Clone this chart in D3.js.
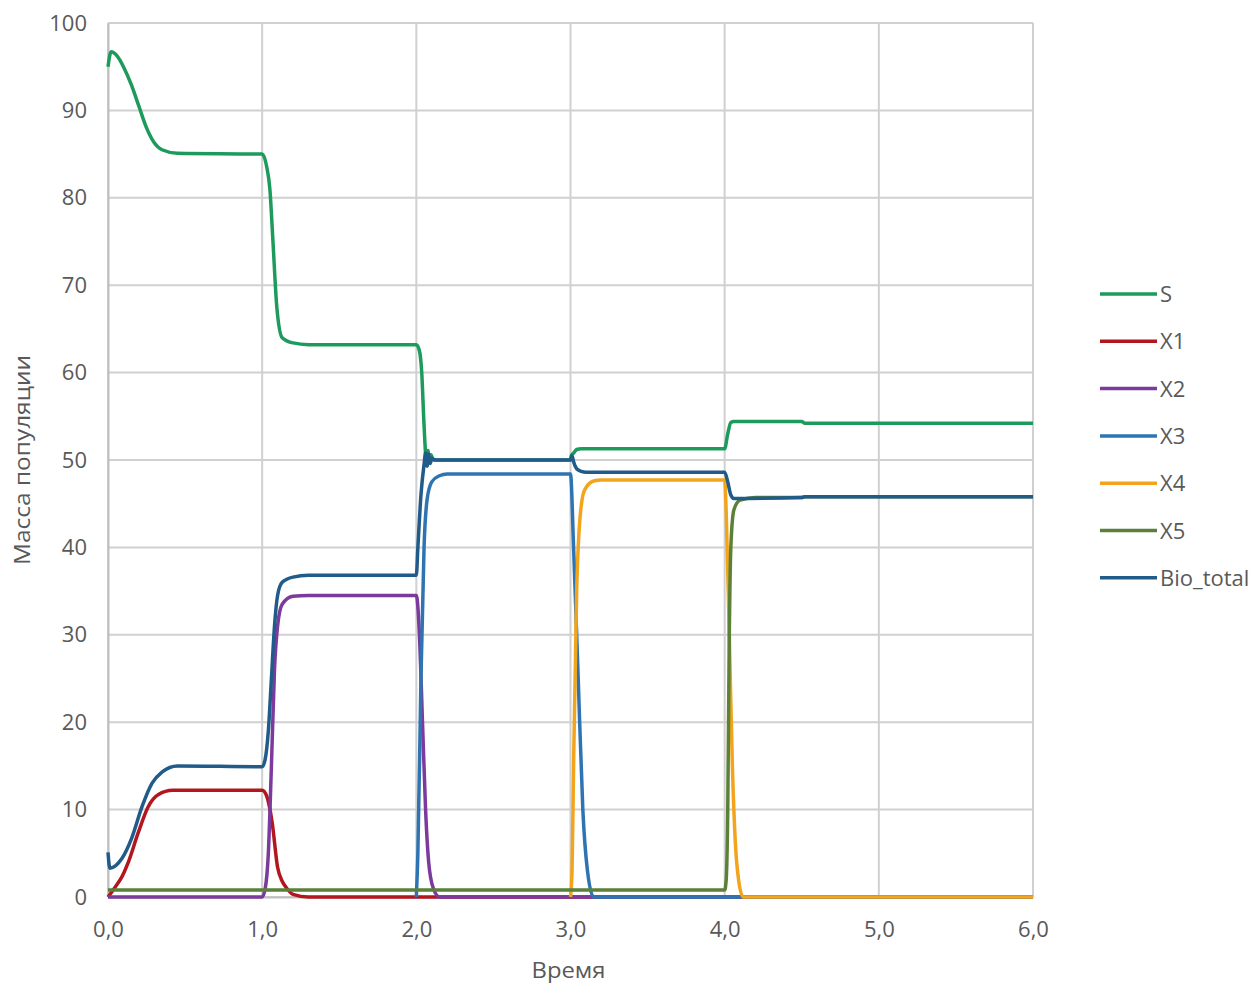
<!DOCTYPE html>
<html>
<head>
<meta charset="utf-8">
<script src="https://cdn.jsdelivr.net/npm/d3@7"></script>
<style>
  body { margin: 0; background: #fff; }
  text { font-family: "Open Sans", "Liberation Sans", sans-serif; fill: #595959; }
</style>
</head>
<body>
<svg id="chart" width="1256" height="983"></svg>
<script>
// time points + values, one [t, v] list per series
const seriesNames = ["S", "X1", "X2", "X3", "X4", "X5", "Bio_total"];
const seriesColors = ["#1c9b5c", "#b2161e", "#7b3a9c", "#2f74b2", "#f2a51c", "#5b8038", "#215b8a"];

const S = [
  [0, 95], [0.02, 96.7], [0.06, 96.2], [0.1, 95], [0.15, 93], [0.2, 90.5], [0.25, 88], [0.3, 86.3],
  [0.35, 85.5], [0.45, 85.1], [1.0, 85], [1.03, 83.5], [1.05, 81], [1.07, 75], [1.095, 67.5],
  [1.13, 64], [1.2, 63.4], [1.3, 63.2], [2.0, 63.2], [2.02, 62.5], [2.035, 60], [2.05, 54],
  [2.065, 50], [2.075, 51.1], [2.085, 49.7], [2.095, 50.6], [2.11, 50], [3.0, 50], [3.005, 50.5],
  [3.02, 50.8], [3.04, 51.2], [3.07, 51.3], [4.0, 51.3], [4.02, 53], [4.04, 54.3], [4.06, 54.4],
  [4.5, 54.4], [4.52, 54.2], [6.0, 54.2]
];
const X1 = [
  [0, 0], [0.045, 1.1], [0.09, 2.3], [0.13, 3.9], [0.195, 7.3], [0.26, 10.3], [0.325, 11.7],
  [0.42, 12.2], [1.0, 12.2], [1.03, 11.5], [1.065, 8.5], [1.1, 3.4], [1.13, 1.8],
  [1.16, 1.0], [1.2, 0.3], [1.3, 0], [6.0, 0]
];
const X2 = [
  [0, 0], [1.0, 0], [1.02, 1], [1.04, 5], [1.06, 15], [1.08, 26], [1.1, 31], [1.13, 33.5],
  [1.2, 34.4], [1.3, 34.5], [2.0, 34.5], [2.02, 30], [2.04, 20], [2.06, 10], [2.08, 4],
  [2.11, 1], [2.15, 0], [6.0, 0]
];
const X3 = [
  [2.0, 0], [2.01, 5], [2.03, 25], [2.05, 40], [2.07, 45.5], [2.1, 47.5], [2.15, 48.2],
  [2.2, 48.4], [3.0, 48.4], [3.02, 40], [3.05, 25], [3.08, 10], [3.11, 3], [3.15, 0], [6.0, 0]
];
const X4 = [
  [3.0, 0], [3.01, 3], [3.02, 15], [3.04, 35], [3.06, 43], [3.09, 46.5], [3.15, 47.6],
  [3.2, 47.7], [4.0, 47.7], [4.01, 44], [4.03, 30], [4.05, 15], [4.07, 6], [4.09, 2],
  [4.12, 0], [6.0, 0]
];
const X5 = [
  [0, 0.8], [4.0, 0.8], [4.01, 2], [4.02, 10], [4.03, 30], [4.04, 40], [4.06, 44.3],
  [4.1, 45.4], [4.2, 45.7], [4.5, 45.7], [4.52, 45.8], [6.0, 45.8]
];
const Bio_total = [
  [0, 5.1], [0.012, 3.3], [0.05, 3.6], [0.09, 4.4], [0.155, 6.8], [0.22, 10.3], [0.285, 13],
  [0.35, 14.3], [0.45, 15], [1.0, 14.9], [1.02, 15.8], [1.04, 19], [1.06, 25],
  [1.08, 31], [1.1, 34.5], [1.13, 36], [1.2, 36.6], [1.3, 36.8], [2.0, 36.8], [2.01, 40],
  [2.03, 46], [2.05, 49.5], [2.06, 50.8], [2.07, 49.3], [2.08, 50.7], [2.09, 49.6], [2.1, 50.2],
  [2.12, 50], [3.0, 50], [3.01, 50.5], [3.02, 49.8], [3.04, 49], [3.07, 48.7], [3.1, 48.6],
  [4.0, 48.6], [4.02, 47.5], [4.04, 46], [4.06, 45.6], [4.5, 45.7], [4.52, 45.8], [6.0, 45.8]
];

const xTicks = [0, 1, 2, 3, 4, 5, 6];
const yTicks = [0, 10, 20, 30, 40, 50, 60, 70, 80, 90, 100];
const xTitle = "Время";
const yTitle = "Масса популяции";

const allSeries = [S, X1, X2, X3, X4, X5, Bio_total];

const margin = { left: 108, top: 23 };
const width = 925;
const height = 874;

const svg = d3.select("#chart");
const g = svg.append("g").attr("transform", "translate(" + margin.left + "," + margin.top + ")");

const x = d3.scaleLinear().domain([0, 6]).range([0, width]);
const y = d3.scaleLinear().domain([0, 100]).range([height, 0]);

// grid
g.append("g")
  .selectAll("line")
  .data(yTicks)
  .enter()
  .append("line")
  .attr("x1", 0)
  .attr("x2", width)
  .attr("y1", (d) => y(d))
  .attr("y2", (d) => y(d))
  .attr("stroke", "#d0d0d0")
  .attr("stroke-width", 2);

g.append("g")
  .selectAll("line")
  .data(xTicks)
  .enter()
  .append("line")
  .attr("x1", (d) => x(d))
  .attr("x2", (d) => x(d))
  .attr("y1", 0)
  .attr("y2", height)
  .attr("stroke", "#d0d0d0")
  .attr("stroke-width", 2);

// axes
const fmt = (d) => d.toFixed(1).replace(".", ",");
const xAxis = g.append("g")
  .attr("transform", "translate(0," + height + ")")
  .call(d3.axisBottom(x).tickValues(xTicks).tickFormat(fmt).tickSize(0).tickPadding(24));
const yAxis = g.append("g")
  .call(d3.axisLeft(y).tickValues(yTicks).tickSize(0).tickPadding(21));

[xAxis, yAxis].forEach((a) => {
  a.select(".domain").attr("stroke", "#bfbfbf").attr("stroke-width", 2);
  a.selectAll("text").attr("font-size", "22px").attr("fill", "#595959")
    .style("font-family", '"Open Sans", sans-serif');
});

// lines
const line = d3.line()
  .x((d) => x(d[0]))
  .y((d) => y(d[1]))
  .curve(d3.curveMonotoneX);

g.selectAll("path.series")
  .data(allSeries)
  .enter()
  .append("path")
  .attr("class", "series")
  .attr("d", line)
  .attr("fill", "none")
  .attr("stroke", (d, i) => seriesColors[i])
  .attr("stroke-width", 3.5)
  .attr("stroke-linejoin", "round");

// axis titles
svg.append("text")
  .attr("x", margin.left + x(3) - 2)
  .attr("y", 978)
  .attr("text-anchor", "middle")
  .attr("font-size", "22px")
  .attr("textLength", 74)
  .attr("lengthAdjust", "spacingAndGlyphs")
  .text(xTitle);

svg.append("text")
  .attr("transform", "translate(30," + 460 + ") rotate(-90)")
  .attr("text-anchor", "middle")
  .attr("font-size", "22px")
  .attr("textLength", 210)
  .attr("lengthAdjust", "spacingAndGlyphs")
  .text(yTitle);

// legend
const legend = svg.append("g")
  .selectAll("g")
  .data(seriesNames)
  .enter()
  .append("g")
  .attr("transform", (d, i) => "translate(1100," + (294 + i * 47.3) + ")");

legend.append("line")
  .attr("x1", 0)
  .attr("x2", 57)
  .attr("stroke", (d, i) => seriesColors[i])
  .attr("stroke-width", 3.5);

legend.append("text")
  .attr("x", 60)
  .attr("y", 8)
  .attr("font-size", "22px")
  .text((d) => d);
</script>
</body>
</html>
